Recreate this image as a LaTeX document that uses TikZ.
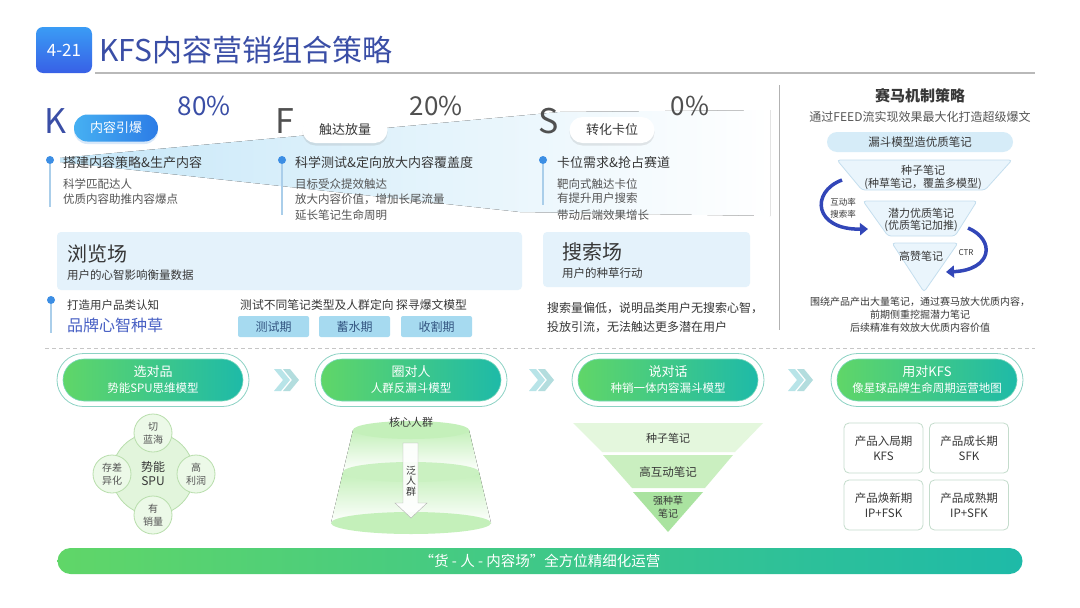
\documentclass[tikz,border=0pt]{standalone}
\usepackage{fontspec}
\setmainfont{Noto Sans CJK SC}
\usetikzlibrary{arrows.meta,shadows}
\newcommand{\fsz}[2]{\fontsize{#1}{#2}\selectfont}
\definecolor{titleblue}{RGB}{58,78,166}
\definecolor{numtop}{RGB}{58,156,245}
\definecolor{numbot}{RGB}{56,96,230}
\definecolor{kpillL}{RGB}{70,176,242}
\definecolor{kpillR}{RGB}{44,124,230}
\definecolor{dotblue}{RGB}{60,142,228}
\definecolor{linkblue}{RGB}{170,206,234}
\definecolor{bandblue}{RGB}{198,231,248}
\definecolor{boxblue}{RGB}{228,242,251}
\definecolor{tagblue}{RGB}{166,218,240}
\definecolor{tagtext}{RGB}{52,86,130}
\definecolor{brandblue}{RGB}{72,96,196}
\definecolor{txtdark}{RGB}{55,55,55}
\definecolor{txtgray}{RGB}{85,85,85}
\definecolor{lettergray}{RGB}{80,80,80}
\definecolor{funnelfill}{RGB}{234,245,252}
\definecolor{funneledge}{RGB}{196,222,238}
\definecolor{funnelpill}{RGB}{214,236,248}
\definecolor{arcblue}{RGB}{50,70,184}
\definecolor{greenL}{RGB}{96,214,104}
\definecolor{greenR}{RGB}{30,186,168}
\definecolor{pilledge}{RGB}{140,210,196}
\definecolor{pillline}{RGB}{120,214,186}
\definecolor{chevcol}{RGB}{184,228,232}
\definecolor{leafA}{RGB}{226,245,220}
\definecolor{leafB}{RGB}{184,222,172}
\definecolor{leafC}{RGB}{236,249,232}
\definecolor{fun1}{RGB}{228,247,221}
\definecolor{fun2}{RGB}{202,239,192}
\definecolor{fun3}{RGB}{170,227,160}
\definecolor{cakegreen}{RGB}{196,240,186}
\definecolor{gridedge}{RGB}{196,220,204}

\begin{document}
\begin{tikzpicture}[x=1pt,y=-1pt,
		txt/.style={anchor=west,inner sep=0pt,text=txtgray,font=\fsz{11.5}{14}},
		head/.style={anchor=west,inner sep=0pt,text=txtdark,font=\fsz{13}{16}},
		bulletdot/.style={circle,fill=dotblue,inner sep=0pt,minimum size=8pt},
		stem/.style={linkblue,line width=1.2pt},
		letter/.style={inner sep=0pt,font=\fsz{34}{36}},
		share/.style={inner sep=0pt,font=\fsz{26}{28}},
		whitepill/.style={fill=white,rounded corners=13pt,minimum width=85pt,minimum height=26pt,inner sep=0pt,text=txtdark,font=\fsz{13}{15},drop shadow={shadow xshift=0pt,shadow yshift=-2.5pt,opacity=0.18}},
		tag/.style={fill=tagblue,rounded corners=2pt,minimum width=71pt,minimum height=21pt,inner sep=0pt,text=tagtext,font=\fsz{12}{14}},
		funnel/.style={fill=funnelfill,draw=funneledge,line width=0.8pt,rounded corners=3pt},
		flabel/.style={inner sep=0pt,text=txtdark,font=\fsz{11}{13}},
		curvearrow/.style={arcblue,line width=3.5pt,-{Triangle[length=8pt,width=12pt]}},
		pillring/.style={draw=pilledge,line width=0.8pt,fill=white,rounded corners=26.5pt,minimum width=192pt,minimum height=53pt},
		pill/.style={draw=pillline,line width=0.6pt,left color=greenL,right color=greenR,rounded corners=21pt,minimum width=180pt,minimum height=42pt,inner sep=0pt,text=white,align=center,font=\fsz{11.5}{16}},
		hub/.style={circle,fill=leafA,draw=leafB,line width=0.8pt,minimum size=82pt,inner sep=0pt,align=center,text=txtdark,font=\fsz{12}{14}},
		leaf/.style={circle,fill=leafC,draw=leafB,line width=0.8pt,minimum size=38pt,inner sep=0pt,align=center,text=txtgray,font=\fsz{10}{13}},
		stage/.style={draw=gridedge,line width=0.8pt,fill=white,rounded corners=5pt,minimum width=79pt,minimum height=50pt,inner sep=0pt,align=center,text=txtdark,font=\fsz{11.5}{14.5}},
		basebar/.style={left color=greenL,right color=greenR,rounded corners=13pt,minimum width=965pt,minimum height=26pt,inner sep=0pt,text=white,font=\fsz{14.5}{16}}
	]
	\useasboundingbox (0,0) rectangle (1080,608);
	\fill[white] (0,0) rectangle (1080,608);

	\node[top color=numtop,bottom color=numbot,rounded corners=7pt,minimum width=56pt,minimum height=46pt,inner sep=0pt,text=white,font=\fsz{17}{19}] (num) at (64,50) {4-21};
	\node[anchor=west,inner sep=0pt,text=titleblue,font=\fsz{30}{34}] (title) at (99,50) {KFS内容营销组合策略};
	\draw[gray!55,line width=1.2pt] (95,73) -- (1035,73);

	\fill[left color=bandblue,middle color=bandblue!70,right color=white] (60,158) -- (560,112) -- (770,110) -- (770,216) -- (520,212) -- (60,162) -- cycle;

	\node[letter,text=titleblue] (kl) at (55,121) {K};
	\node[share,text=titleblue] (kp) at (204,106) {80\%};
	\node[left color=kpillL,right color=kpillR,rounded corners=13.5pt,minimum width=84pt,minimum height=27pt,inner sep=0pt,text=white,font=\fsz{13}{15},drop shadow={shadow xshift=0pt,shadow yshift=-2.5pt,opacity=0.2,fill=dotblue}] (kpill) at (116,128) {内容引爆};
	\node[letter,text=lettergray] (fl) at (285,121) {F};
	\node[share,text=lettergray] (fp) at (436,106) {20\%};
	\node[whitepill] (fpill) at (345,130) {触达放量};
	\node[letter,text=lettergray] (sl) at (549,121) {S};
	\node[share,text=lettergray] (sp) at (690,106) {0\%};
	\node[whitepill] (spill) at (612,130) {转化卡位};

	\node[bulletdot] (kdot) at (50,160) {};
	\coordinate (kend) at (50,207);
	\draw[stem] (kdot) -- (kend);
	\node[head] (khead) at (63,163) {搭建内容策略\&生产内容};
	\node[txt] (k1) at (63,184) {科学匹配达人};
	\node[txt] (k2) at (63,199) {优质内容助推内容爆点};

	\node[bulletdot] (fdot) at (282,160) {};
	\coordinate (fend) at (282,215);
	\draw[stem] (fdot) -- (fend);
	\node[head] (fhead) at (295,163) {科学测试\&定向放大内容覆盖度};
	\node[txt] (f1) at (295,184) {目标受众提效触达};
	\node[txt] (f2) at (295,199) {放大内容价值，增加长尾流量};
	\node[txt] (f3) at (295,215) {延长笔记生命周明};

	\node[bulletdot] (sdot) at (543,160) {};
	\coordinate (send) at (543,205);
	\draw[stem] (sdot) -- (send);
	\node[head] (shead) at (557,163) {卡位需求\&抢占赛道};
	\node[txt] (s1) at (557,184) {靶向式触达卡位};
	\node[txt] (s2) at (557,198) {有提升用户搜索};
	\node[txt] (s3) at (557,215) {带动后端效果增长};

	\fill[boxblue,rounded corners=4pt] (57,232) rectangle (522,290);
	\node[anchor=west,inner sep=0pt,text=txtdark,font=\fsz{20}{22}] (browse) at (67,254) {浏览场};
	\node[txt,text=txtdark] (browsesub) at (67,275) {用户的心智影响衡量数据};
	\fill[boxblue,rounded corners=4pt] (543,232) rectangle (750,287);
	\node[anchor=west,inner sep=0pt,text=txtdark,font=\fsz{20}{22}] (search) at (562,252) {搜索场};
	\node[txt,text=txtdark] (searchsub) at (562,273) {用户的种草行动};

	\node[bulletdot] (bdot) at (51,300) {};
	\coordinate (bend) at (51,333);
	\draw[stem] (bdot) -- (bend);
	\node[txt,text=txtdark] (cat) at (67,305) {打造用户品类认知};
	\node[anchor=west,inner sep=0pt,text=brandblue,font=\fsz{16}{18}] (brand) at (67,325) {品牌心智种草};
	\node[txt,text=txtdark,font=\fsz{11.8}{14}] (testing) at (240,305) {测试不同笔记类型及人群定向 探寻爆文模型};
	\node[tag] (t1) at (273.5,326.5) {测试期};
	\node[tag] (t2) at (354.5,326.5) {蓄水期};
	\node[tag] (t3) at (436.5,326.5) {收割期};
	\node[txt,text=txtdark,font=\fsz{12}{14}] (low1) at (547,308) {搜索量偏低，说明品类用户无搜索心智，};
	\node[txt,text=txtdark,font=\fsz{12}{14}] (low2) at (547,327) {投放引流，无法触达更多潜在用户};

	\draw[gray!60,line width=0.8pt] (779,85) -- (779,330);
	\draw[gray!45,dash pattern=on 4pt off 3pt] (45,348) -- (1035,348);

	\node[inner sep=0pt,text=txtdark,font=\bfseries\fsz{15}{17}] (race) at (920,96) {赛马机制策略};
	\node[inner sep=0pt,text=txtgray,font=\fsz{12}{14}] (feed) at (920,117) {通过FEED流实现效果最大化打造超级爆文};
	\node[fill=funnelpill,rounded corners=10pt,minimum width=186pt,minimum height=20pt,inner sep=0pt,text=txtdark,font=\fsz{11.5}{13}] (model) at (920,142) {漏斗模型造优质笔记};
	\draw[funnel] (837,160) -- (1012,160) -- (985,190) -- (862,190) -- cycle;
	\draw[funnel] (863,201) -- (977,201) -- (955,236) -- (888,236) -- cycle;
	\draw[funnel] (892,243) -- (958,243) -- (924,292) -- cycle;
	\node[flabel] (seed) at (923,170) {种子笔记};
	\node[flabel] (seedsub) at (923,184) {(种草笔记，覆盖多模型)};
	\node[flabel] (pot) at (921,213) {潜力优质笔记};
	\node[flabel] (potsub) at (921,226) {(优质笔记加推)};
	\node[flabel] (top) at (921,256) {高赞笔记};
	\coordinate (la) at (842,180);
	\coordinate (lb) at (868,229);
	\coordinate (ra) at (968,228);
	\coordinate (rb) at (946,272);
	\draw[curvearrow] (la) .. controls (810,192) and (814,230) .. (lb);
	\draw[curvearrow] (ra) .. controls (996,240) and (992,270) .. (rb);
	\node[inner sep=0pt,align=center,text=txtdark,font=\fsz{8.5}{11.5}] (rate) at (843,208) {互动率\\搜索率};
	\node[inner sep=0pt,text=txtdark,font=\fsz{8}{10}] (ctr) at (966,253) {CTR};
	\node[inner sep=0pt,align=center,text=txtdark,font=\fsz{10}{13.2}] (race note) at (920,315) {围绕产品产出大量笔记，通过赛马放大优质内容，\\前期侧重挖掘潜力笔记\\后续精准有效放大优质内容价值};

	\foreach \x/\a/\b/\n in {153/选对品/势能SPU思维模型/pick,411/圈对人/人群反漏斗模型/crowd,668/说对话/种销一体内容漏斗模型/talk,927/用对KFS/像星球品牌生命周期运营地图/plan}{
		\node[pillring] (\n-ring) at (\x,380) {};
		\node[pill] (\n) at (\x,380) {{\fsz{13}{16}\a}\\\b};
	}
	\foreach \cx in {274,529,788}{
		\fill[chevcol] (\cx,369) -- (\cx+7,369) -- (\cx+16,380) -- (\cx+7,391) -- (\cx,391) -- (\cx+9,380) -- cycle;
		\fill[chevcol!70!teal!60] (\cx+9,369) -- (\cx+16,369) -- (\cx+25,380) -- (\cx+16,391) -- (\cx+9,391) -- (\cx+18,380) -- cycle;
	}

	\node[hub] (spu) at (153,474) {势能\\SPU};
	\node[leaf] (cut) at (153,433) {切\\蓝海};
	\node[leaf] (diff) at (112,474) {存差\\异化};
	\node[leaf] (profit) at (196,474) {高\\利润};
	\node[leaf] (sales) at (153,515) {有\\销量};

	\fill[top color=cakegreen,bottom color=white] (353,430) -- (469,430) -- (479,472) -- (343,472) -- cycle;
	\fill[top color=cakegreen,bottom color=white] (343,472) -- (479,472) -- (491,523) -- (331,523) -- cycle;
	\fill[cakegreen] (411,430) ellipse [x radius=58,y radius=9];
	\fill[cakegreen!90] (411,472) ellipse [x radius=68,y radius=10];
	\fill[cakegreen] (411,523) ellipse [x radius=80,y radius=11];
	\node[inner sep=0pt,text=txtdark,font=\fsz{11}{13}] (core) at (411,422) {核心人群};
	\draw[gray!60,fill=white,fill opacity=0.9] (403,443) -- (418,443) -- (418,503) -- (427,503) -- (411,518) -- (395,503) -- (403,503) -- cycle;
	\node[inner sep=0pt,align=center,text=txtdark,font=\fsz{10}{10.5}] (wide) at (411,481) {泛\\人\\群};

	\fill[fun1] (573,423) -- (763,423) -- (735,452) -- (602,452) -- cycle;
	\fill[fun2] (603,455) -- (733,455) -- (705,488) -- (632,488) -- cycle;
	\fill[fun3] (633,492) -- (703,492) -- (668,532) -- cycle;
	\node[inner sep=0pt,text=txtdark,font=\fsz{11}{13}] (seednote) at (668,438) {种子笔记};
	\node[inner sep=0pt,text=txtdark,font=\fsz{11.5}{13}] (hotnote) at (668,472) {高互动笔记};
	\node[inner sep=0pt,align=center,text=txtdark,font=\fsz{10}{13}] (strongnote) at (668,507) {强种草\\笔记};

	\node[stage] (enter) at (883.5,448) {产品入局期\\KFS};
	\node[stage] (grow) at (969,448) {产品成长期\\SFK};
	\node[stage] (renew) at (883.5,505) {产品焕新期\\IP+FSK};
	\node[stage] (mature) at (969,505) {产品成熟期\\IP+SFK};

	\node[basebar] (ops) at (540,561) {“货 - 人 - 内容场”全方位精细化运营};
\end{tikzpicture}
\end{document}
